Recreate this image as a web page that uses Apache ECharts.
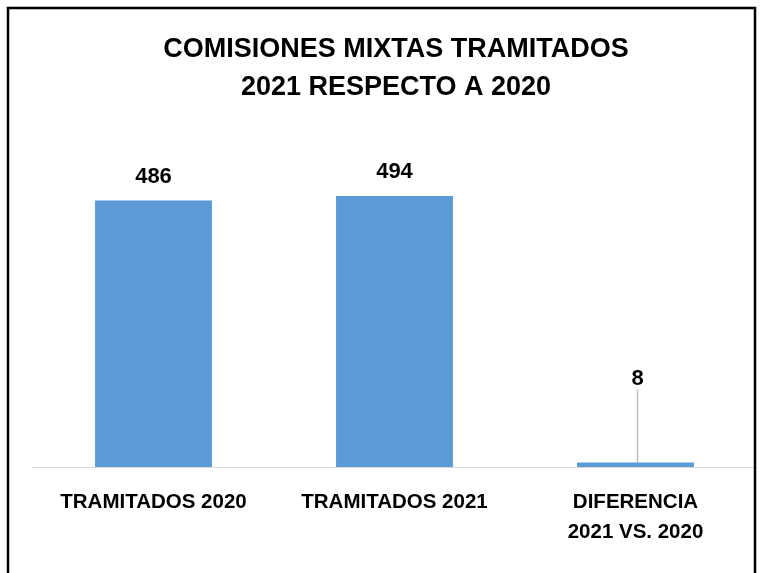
<!DOCTYPE html>
<html><head><meta charset="utf-8">
<script src="https://cdn.jsdelivr.net/npm/echarts@6/dist/echarts.min.js"></script>
<style>html,body{margin:0;padding:0;background:#fff}#c{width:766px;height:573px}</style>
</head><body><div id="c"></div>
<script>
const categories = ['TRAMITADOS 2020', 'TRAMITADOS 2021', 'DIFERENCIA\n2021 VS. 2020'];
const values = [486, 494, 8];
const titleLines = ['COMISIONES MIXTAS TRAMITADOS', '2021 RESPECTO A 2020'];
const FONT = "'Liberation Sans', Arial, sans-serif";

const seriesData = values.map((v, i) => i === 2
  ? {value: v, labelLine: {show: true}}
  : {value: v, labelLine: {show: false}});

const chart = echarts.init(document.getElementById('c'));
chart.setOption({
  animation: false,
  backgroundColor: '#fff',
  graphic: [{
    type: 'rect', shape: {x: 8, y: 8, width: 747, height: 620},
    style: {fill: 'none', stroke: '#000', lineWidth: 2.5}, z: 100
  }, {
    type: 'text', x: 396, y: 69,
    style: {text: titleLines.join('\n'), align: 'center', verticalAlign: 'middle',
      font: "bold 27px 'Liberation Sans', Arial, sans-serif", lineHeight: 38, fill: '#000'}
  }],
  grid: {left: 33, right: 10, top: 138, bottom: 106, containLabel: false},
  xAxis: {
    type: 'category', data: categories,
    axisLine: {lineStyle: {color: '#d9d9d9', width: 1}},
    axisTick: {show: false},
    axisLabel: {fontFamily: FONT, fontWeight: 'bold', fontSize: 20.5, color: '#000', margin: 20, lineHeight: 30, interval: 0}
  },
  yAxis: {type: 'value', min: 0, max: 600, show: false, splitLine: {show: false}},
  series: [{
    type: 'bar', data: seriesData, barWidth: '48.5%',
    itemStyle: {color: '#5B9BD5'},
    label: {show: true, position: 'top', distance: 13, fontFamily: FONT, fontWeight: 'bold', fontSize: 22, color: '#000'},
    labelLine: {show: false, lineStyle: {color: '#bfbfbf', width: 1.5}},
    labelLayout: function (p) { return p.dataIndex === 2 ? {dy: -60, dx: 2} : {}; }
  }]
});
</script></body></html>
